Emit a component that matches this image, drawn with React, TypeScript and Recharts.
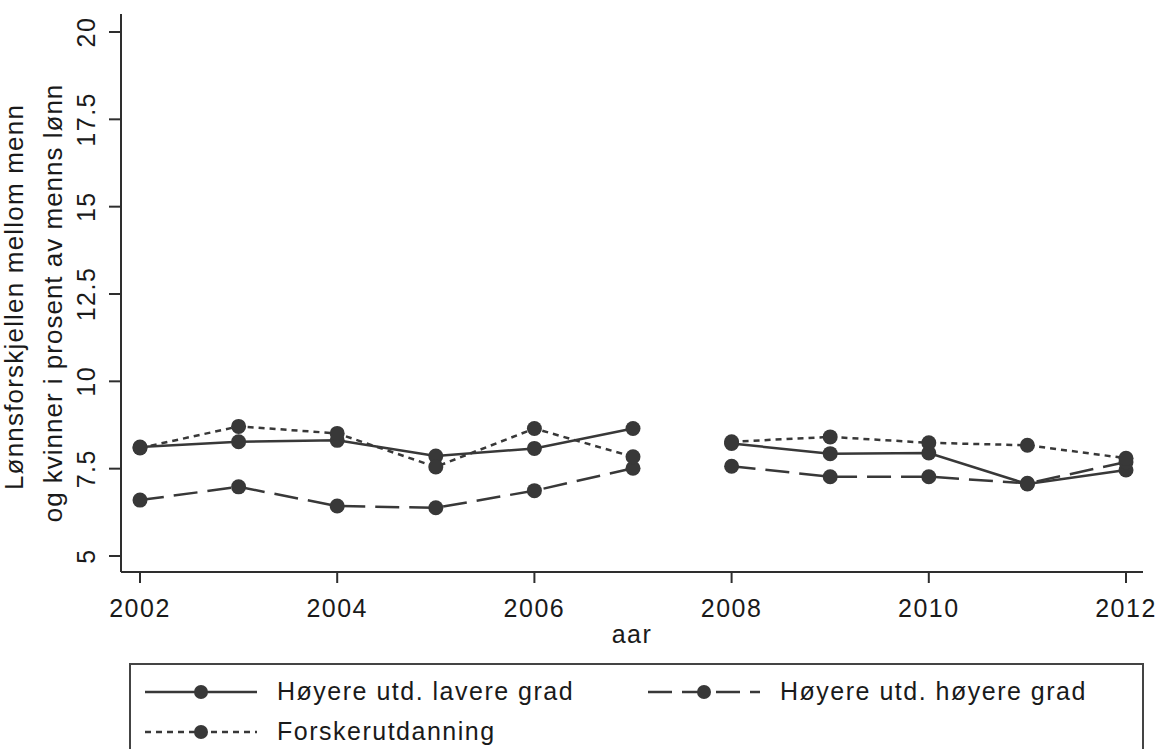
import React from 'react';
import { LineChart, Line, XAxis, YAxis } from 'recharts';

const years = [2002, 2003, 2004, 2005, 2006, 2007, 2008, 2009, 2010, 2011, 2012];
const lavereGrad = [8.12, 8.27, 8.31, 7.86, 8.08, 8.65, 8.22, 7.93, 7.95, 7.06, 7.46];
const hoyereGrad = [6.6, 6.98, 6.43, 6.38, 6.87, 7.51, 7.57, 7.27, 7.27, 7.08, 7.69];
const forsker = [8.09, 8.71, 8.51, 7.55, 8.65, 7.84, 8.27, 8.41, 8.24, 8.17, 7.8];
const breakAfterYear = 2007;

const xTicks = [2002, 2004, 2006, 2008, 2010, 2012];
const yTicks = [5, 7.5, 10, 12.5, 15, 17.5, 20];

const seriesNames = ['Høyere utd. lavere grad', 'Høyere utd. høyere grad', 'Forskerutdanning'];
const yTitle = ['Lønnsforskjellen mellom menn', 'og kvinner i prosent av menns lønn'];
const xTitle = 'aar';

const LINE = '#383838';
const AXIS = '#2e2e2e';
const TEXT = '#1a1a1a';
const FONT = '"Liberation Sans", Arial, sans-serif';
const DASHED = '24 10';
const DOTTED = '6 5';

const data: any[] = [];
years.forEach((yr, i) => {
  data.push({ year: yr, lavere: lavereGrad[i], hoyere: hoyereGrad[i], forsker: forsker[i] });
  if (yr === breakAfterYear) {
    data.push({ year: yr + 0.5, lavere: null, hoyere: null, forsker: null });
  }
});

const Dot = (props: any) => {
  const { cx, cy, value, index } = props;
  if (value == null || cy == null || cx == null) return <g key={`d-${index}`} />;
  return <circle key={`d-${index}`} cx={cx} cy={cy} r={7.5} fill={LINE} stroke="none" />;
};

const YTick = (props: any) => {
  const { x, y, payload } = props;
  return (
    <text
      x={x}
      y={y}
      transform={`rotate(-90 ${x} ${y})`}
      textAnchor="middle"
      fontSize={25}
      fontFamily={FONT}
      letterSpacing={1.5}
      fill={TEXT}
    >
      {payload.value}
    </text>
  );
};

const LegendSymbol = ({ x1, x2, y, dash }: { x1: number; x2: number; y: number; dash?: string }) => (
  <g>
    <line x1={x1} x2={x2} y1={y} y2={y} stroke={LINE} strokeWidth={2.5} strokeDasharray={dash} />
    <circle cx={(x1 + x2) / 2} cy={y} r={7} fill={LINE} />
  </g>
);

export default function App() {
  return (
    <div style={{ position: 'absolute', left: 0, top: 0, width: 1158, height: 749, background: '#fff', overflow: 'hidden' }}>
      <LineChart
        width={1158}
        height={749}
        data={data}
        margin={{ top: 14, right: 15, left: 0, bottom: 117 }}
      >
        <XAxis
          dataKey="year"
          type="number"
          domain={[2002, 2012]}
          ticks={xTicks}
          padding={{ left: 19, right: 17 }}
          height={60}
          tickSize={11}
          tickMargin={16}
          axisLine={{ stroke: AXIS, strokeWidth: 2 }}
          tickLine={{ stroke: AXIS, strokeWidth: 2 }}
          tick={{ fontSize: 25, fontFamily: FONT, fill: TEXT, letterSpacing: 1.5 }}
          interval={0}
        />
        <XAxis
          xAxisId="top"
          orientation="top"
          dataKey="year"
          type="number"
          domain={[2002, 2012]}
          height={0}
          tick={false}
          tickLine={false}
          axisLine={{ stroke: AXIS, strokeWidth: 2 }}
        />
        <YAxis
          type="number"
          domain={[5, 20]}
          ticks={yTicks}
          padding={{ top: 18, bottom: 16 }}
          width={121}
          tickSize={12}
          tickMargin={14}
          axisLine={{ stroke: AXIS, strokeWidth: 2 }}
          tickLine={{ stroke: AXIS, strokeWidth: 2 }}
          tick={<YTick />}
          interval={0}
        />
        <YAxis
          yAxisId="right"
          orientation="right"
          domain={[5, 20]}
          width={0}
          tick={false}
          tickLine={false}
          axisLine={{ stroke: AXIS, strokeWidth: 2 }}
        />
        <Line
          dataKey="lavere"
          stroke={LINE}
          strokeWidth={2.5}
          dot={Dot}
          activeDot={false}
          connectNulls={false}
          isAnimationActive={false}
        />
        <Line
          dataKey="hoyere"
          stroke={LINE}
          strokeWidth={2.5}
          strokeDasharray={DASHED}
          dot={Dot}
          activeDot={false}
          connectNulls={false}
          isAnimationActive={false}
        />
        <Line
          dataKey="forsker"
          stroke={LINE}
          strokeWidth={2.5}
          strokeDasharray={DOTTED}
          dot={Dot}
          activeDot={false}
          connectNulls={false}
          isAnimationActive={false}
        />
      </LineChart>
      <svg
        width={1158}
        height={749}
        style={{ position: 'absolute', left: 0, top: 0, pointerEvents: 'none' }}
      >
        <g fontFamily={FONT} fill={TEXT}>
          <text x={23} y={297} transform="rotate(-90 23 297)" textAnchor="middle" fontSize={26} letterSpacing={1.2}>
            {yTitle[0]}
          </text>
          <text x={62} y={303} transform="rotate(-90 62 303)" textAnchor="middle" fontSize={26} letterSpacing={1}>
            {yTitle[1]}
          </text>
          <text x={632} y={643} textAnchor="middle" fontSize={25} letterSpacing={1.5}>
            {xTitle}
          </text>
        </g>
        <rect x={130} y={664} width={1013} height={120} fill="#fff" stroke="#444" strokeWidth={2} />
        <LegendSymbol x1={145} x2={257} y={692} />
        <LegendSymbol x1={648} x2={760} y={692} dash={DASHED} />
        <LegendSymbol x1={145} x2={257} y={732} dash={DOTTED} />
        <g fontFamily={FONT} fill={TEXT} fontSize={25} letterSpacing={1.5}>
          <text x={277} y={700}>{seriesNames[0]}</text>
          <text x={780} y={700}>{seriesNames[1]}</text>
          <text x={277} y={740}>{seriesNames[2]}</text>
        </g>
      </svg>
    </div>
  );
}
